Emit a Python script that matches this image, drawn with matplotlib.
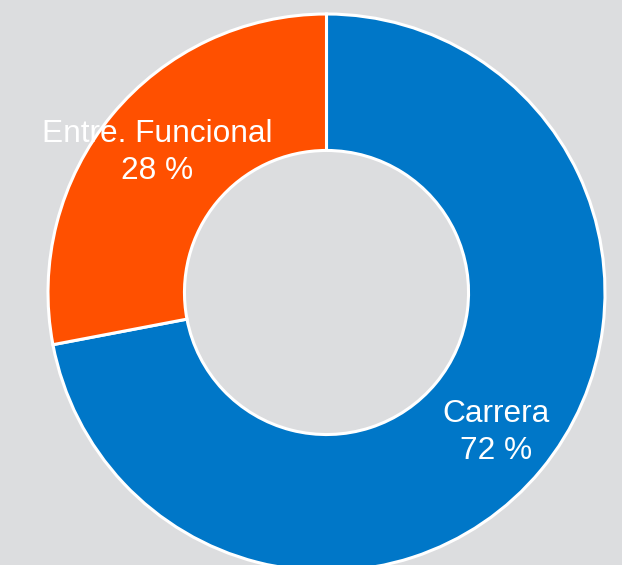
import matplotlib
matplotlib.use("Agg")
import matplotlib.pyplot as plt
import numpy as np

categories = ["Carrera", "Entre. Funcional"]
values = [72, 28]
colors = ["#0077c8", "#ff5000"]
bg = "#dcdddf"

W, H = 622, 565
fig = plt.figure(figsize=(W / 100, H / 100), dpi=100, facecolor=bg)
ax = fig.add_axes([0, 0, 1, 1])
ax.set_facecolor(bg)

cx, cy = 326.5, H - 292.5
R = 278.5
wedges, _ = ax.pie(values, colors=colors, startangle=90, counterclock=False,
                   center=(cx, cy), radius=R,
                   wedgeprops=dict(width=R * 0.49, edgecolor="white", linewidth=2.2))
ax.set_xlim(0, W)
ax.set_ylim(0, H)
ax.set_aspect("equal")
ax.axis("off")

for w, cat, v in zip(wedges, categories, values):
    ang = np.deg2rad((w.theta1 + w.theta2) / 2)
    r = R * 0.79
    x = cx + r * np.cos(ang)
    y = cy + r * np.sin(ang)
    ax.text(x, y, f"{cat}\n{v} %", ha="center", va="center", color="white",
            fontsize=22.8, family="Liberation Sans", linespacing=1.32)

fig.savefig("out.png", dpi=100, facecolor=bg)
